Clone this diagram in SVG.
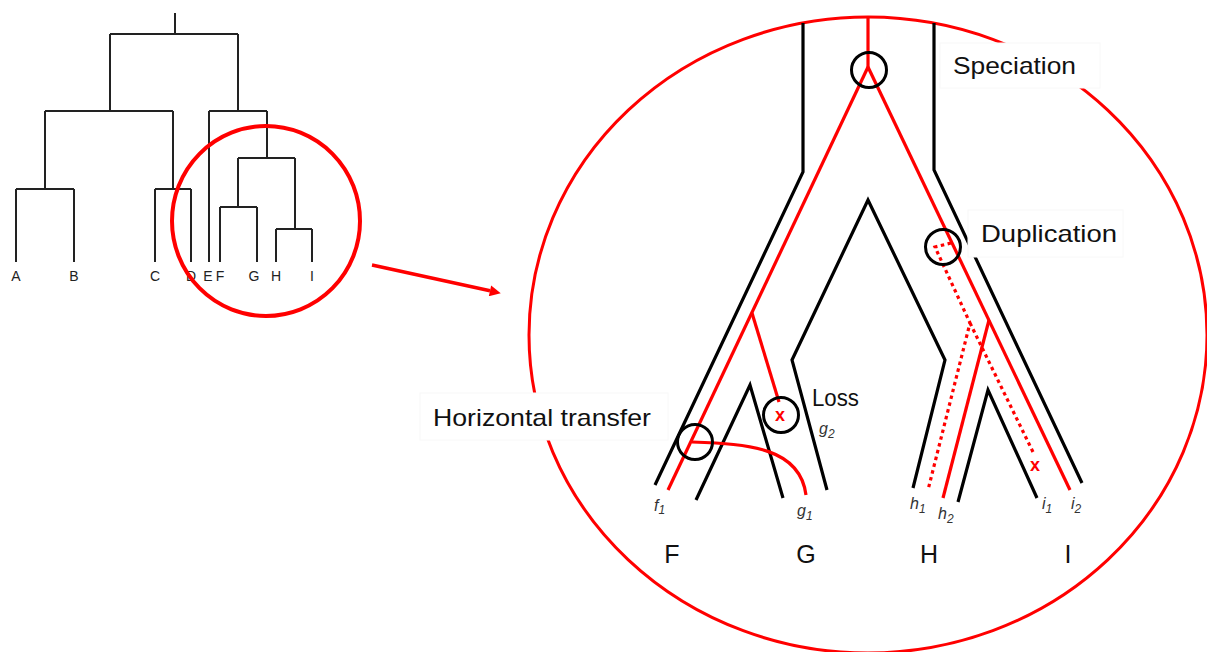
<svg xmlns="http://www.w3.org/2000/svg" width="1207" height="652" viewBox="0 0 1207 652">
<style>
.small{fill:none;stroke:#222;stroke-width:2}
.blk{fill:none;stroke:#000;stroke-width:3.2;stroke-linejoin:miter}
.red{fill:none;stroke:#f00;stroke-width:3.2}
.dot{fill:none;stroke:#f00;stroke-width:3.2;stroke-dasharray:3.5 3.5}
.ev{fill:none;stroke:#000;stroke-width:3}
.lbl{font-family:"Liberation Sans",Arial,sans-serif;font-size:24px;fill:#111}
.sl{font-family:"Liberation Sans",Arial,sans-serif;font-size:14px;fill:#222;text-anchor:middle}
.big{font-family:"Liberation Sans",Arial,sans-serif;font-size:25px;fill:#111;text-anchor:middle}
.it{font-family:"Liberation Sans",Arial,sans-serif;font-size:16px;font-style:italic;fill:#333}
.sub{font-size:12px}
.rx{font-family:"Liberation Sans",Arial,sans-serif;font-size:18px;font-weight:bold;fill:#f00;text-anchor:middle}
.box{fill:#fff;stroke:#f8f8f8;stroke-width:1}
</style>
<defs>
<marker id="ah" viewBox="0 0 10 10" refX="0" refY="5" markerWidth="12" markerHeight="11" markerUnits="userSpaceOnUse" orient="auto">
<path d="M0,0 L10,5 L0,10 z" fill="#f00"/>
</marker>
</defs>
<rect width="1207" height="652" fill="#fff"/>

<g id="small-tree">
<path class="small" d="M175 13V34M110 34H238M110 34V111M45 111H173M45 111V189M16 189H74M16 189V262M74 189V262M173 111V189M155 189H191M155 189V262M191 189V262M238 34V111M209 111H267M209 111V262M267 111V158M238 158H295M238 158V207M220 207H257M220 207V262M257 207V262M295 158V229M276 229H312M276 229V262M312 229V262"/>
<text class="sl" x="16" y="281">A</text>
<text class="sl" x="74" y="281">B</text>
<text class="sl" x="155" y="281">C</text>
<text class="sl" x="191" y="281">D</text>
<text class="sl" x="208" y="281">E</text>
<text class="sl" x="220" y="281">F</text>
<text class="sl" x="254" y="281">G</text>
<text class="sl" x="276" y="281">H</text>
<text class="sl" x="312" y="281">I</text>
</g>

<g id="zoom-circle">
<ellipse cx="266" cy="221" rx="94" ry="95" fill="none" stroke="#f00" stroke-width="4"/>
</g>

<g id="connectors">
<line x1="372" y1="265" x2="490" y2="290.8" stroke="#f00" stroke-width="3.5" marker-end="url(#ah)"/>
</g>

<g id="big-ellipse">
<ellipse cx="868" cy="335" rx="339" ry="318" fill="none" stroke="#f00" stroke-width="3"/>
</g>

<g id="species-tree">
<path class="blk" d="M803 23V172L655 485"/>
<path class="blk" d="M934 23V170L1082 483"/>
<path class="blk" d="M827 490L792 360L868 200L945 360L913 488"/>
<path class="blk" d="M696 500L750 385L783 498"/>
<path class="blk" d="M958 502L988 390L1037 498"/>
</g>

<g id="gene-tree">
<path class="red" d="M868 17V67"/>
<path class="red" d="M868 67L668 490"/>
<path class="red" d="M868 67L1070 490"/>
<path class="red" d="M752 313L779 402"/>
<path class="red" d="M692 442C750 444 800 448 806 495"/>
<path class="red" d="M989 320L943 498"/>
<path class="dot" d="M951 243L935 247L970 323L928 490M970 323L1033 452"/>
<text class="rx" x="780" y="421">x</text>
<text class="rx" x="1035" y="471">x</text>
</g>

<g id="event-circles">
<circle class="ev" cx="869" cy="70" r="17.5"/>
<circle class="ev" cx="943" cy="247" r="17.5"/>
<circle class="ev" cx="781" cy="415" r="17.5"/>
<circle class="ev" cx="695" cy="442" r="17.5"/>
</g>

<g id="label-speciation">
<rect class="box" x="940" y="43" width="160" height="45"/>
<text class="lbl" x="953" y="74" textLength="123" lengthAdjust="spacingAndGlyphs">Speciation</text>
</g>
<g id="label-duplication">
<rect class="box" x="968" y="210" width="155" height="47"/>
<text class="lbl" x="981" y="242" textLength="136" lengthAdjust="spacingAndGlyphs">Duplication</text>
</g>
<g id="label-hgt">
<rect class="box" x="420" y="393" width="248" height="47"/>
<text class="lbl" x="433" y="426" textLength="218" lengthAdjust="spacingAndGlyphs">Horizontal transfer</text>
</g>
<g id="label-loss">
<text class="lbl" x="812" y="406" textLength="47" lengthAdjust="spacingAndGlyphs">Loss</text>
</g>

<g id="gene-labels">
<text class="it" x="654" y="511">f<tspan class="sub" dy="3">1</tspan></text>
<text class="it" x="797" y="516">g<tspan class="sub" dy="4">1</tspan></text>
<text class="it" x="819" y="434">g<tspan class="sub" dy="4">2</tspan></text>
<text class="it" x="910" y="509">h<tspan class="sub" dy="4">1</tspan></text>
<text class="it" x="938" y="519">h<tspan class="sub" dy="4">2</tspan></text>
<text class="it" x="1042" y="509">i<tspan class="sub" dy="4">1</tspan></text>
<text class="it" x="1071" y="509">i<tspan class="sub" dy="4">2</tspan></text>
</g>

<g id="species-labels">
<text class="big" x="672" y="563">F</text>
<text class="big" x="806" y="563">G</text>
<text class="big" x="929" y="563">H</text>
<text class="big" x="1068" y="563">I</text>
</g>
</svg>
